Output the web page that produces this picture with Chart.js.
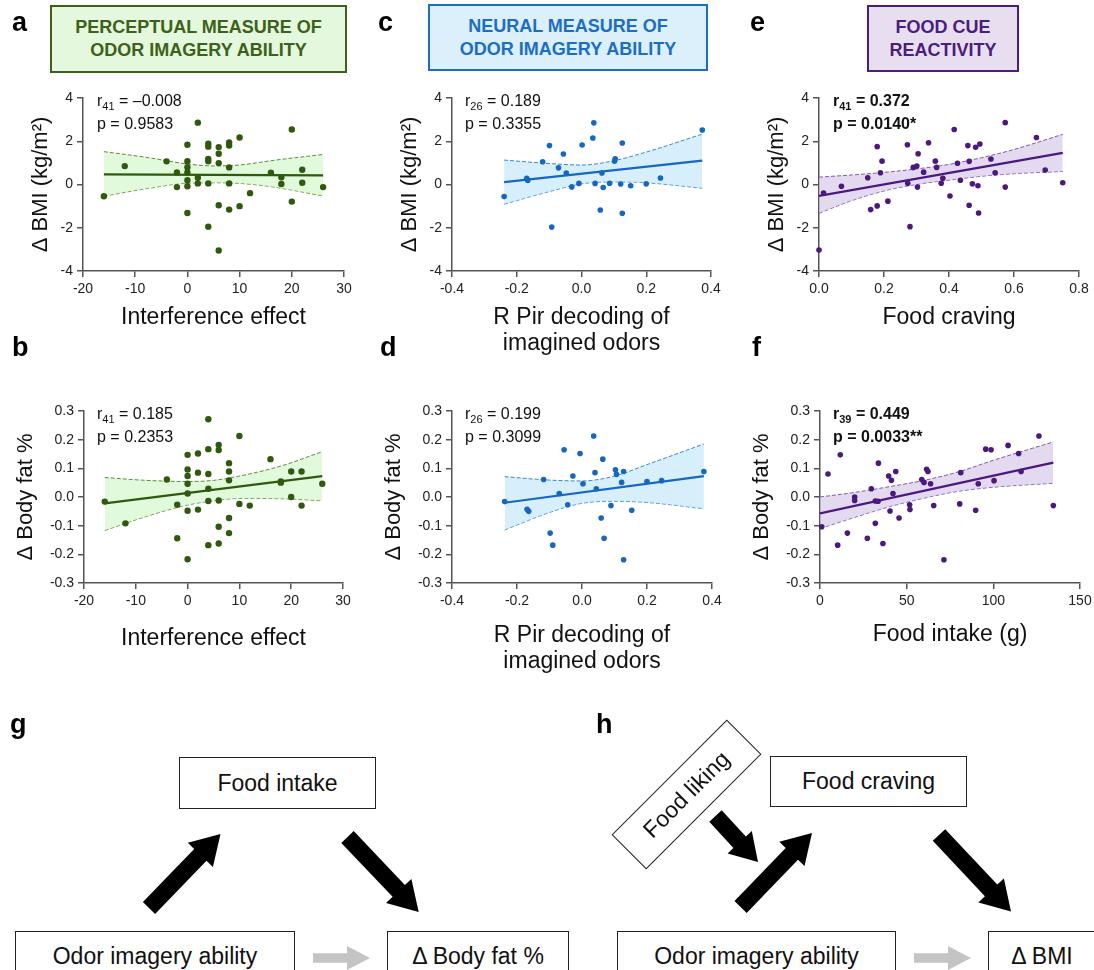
<!DOCTYPE html>
<html>
<head>
<meta charset="utf-8">
<script src="https://cdn.jsdelivr.net/npm/chart.js@4.4.1/dist/chart.umd.min.js"></script>
<style>
  body { margin: 0; background: #fff; font-family: "Liberation Sans", Arial, sans-serif; }
  #fig { position: relative; width: 1094px; height: 970px; overflow: hidden; background: #fff; }
  canvas { position: absolute; }
  .lbl { position: absolute; font-weight: bold; font-size: 27px; line-height: 27px; color: #000; }
  .hdr { position: absolute; box-sizing: border-box; border: 2.5px solid; display: flex; align-items: center;
         justify-content: center; text-align: center; font-weight: bold; font-size: 18px; line-height: 23px; }
  .stat { position: absolute; font-size: 16px; line-height: 23px; color: #111; white-space: nowrap; }
  .stat sub { font-size: 11px; line-height: 0; vertical-align: -4px; }
  .stat.bold { font-weight: bold; }
  .box { position: absolute; box-sizing: border-box; border: 1.5px solid #222; display: flex; align-items: center;
         justify-content: center; font-size: 23px; color: #111; background: #fff; white-space: nowrap; }
  svg { position: absolute; left: 0; top: 0; }
</style>
</head>
<body>
<div id="fig">
  <svg id="arrows" width="1094" height="970"></svg>

  <div class="lbl" style="left:12px;top:9px">a</div>
  <div class="lbl" style="left:378px;top:9px">c</div>
  <div class="lbl" style="left:750px;top:9px">e</div>
  <div class="lbl" style="left:12px;top:334px">b</div>
  <div class="lbl" style="left:380px;top:334px">d</div>
  <div class="lbl" style="left:752px;top:334px">f</div>
  <div class="lbl" style="left:10px;top:711px">g</div>
  <div class="lbl" style="left:596px;top:711px">h</div>

  <div class="hdr" style="left:50px;top:5px;width:297px;height:68px;border-color:#3d6118;background:#e3f8dd;color:#3d6118">PERCEPTUAL MEASURE OF<br>ODOR IMAGERY ABILITY</div>
  <div class="hdr" style="left:428px;top:4px;width:280px;height:67px;border-color:#1b6ec8;background:#dcf0fb;color:#1b6ec8">NEURAL MEASURE OF<br>ODOR IMAGERY ABILITY</div>
  <div class="hdr" style="left:867px;top:5px;width:152px;height:67px;border-color:#4b1c82;background:#e7dff0;color:#4b1c82">FOOD CUE<br>REACTIVITY</div>

  <div class="stat" style="left:97px;top:89px">r<sub>41</sub> = –0.008<br>p = 0.9583</div>
  <div class="stat" style="left:97px;top:402px">r<sub>41</sub> = 0.185<br>p = 0.2353</div>
  <div class="stat" style="left:465px;top:89px">r<sub>26</sub> = 0.189<br>p = 0.3355</div>
  <div class="stat" style="left:465px;top:402px">r<sub>26</sub> = 0.199<br>p = 0.3099</div>
  <div class="stat bold" style="left:833px;top:89px">r<sub>41</sub> = 0.372<br>p = 0.0140*</div>
  <div class="stat bold" style="left:833px;top:402px">r<sub>39</sub> = 0.449<br>p = 0.0033**</div>

  <div class="box" style="left:179px;top:757px;width:197px;height:52px">Food intake</div>
  <div class="box" style="left:15px;top:931px;width:280px;height:51px">Odor imagery ability</div>
  <div class="box" style="left:387px;top:931px;width:182px;height:51px">Δ Body fat %</div>

  <div class="box" style="left:770px;top:756px;width:197px;height:51px">Food craving</div>
  <div class="box" style="left:617px;top:931px;width:279px;height:51px">Odor imagery ability</div>
  <div class="box" style="left:988px;top:931px;width:108px;height:51px">Δ BMI</div>
  <div class="box" style="left:605px;top:770px;width:163px;height:49px;transform:rotate(-45deg);background:transparent">Food liking</div>
</div>

<script>
// ---- panel a: interference effect vs delta BMI
const aX = [-16,-12,-4,-2,-2,0,0,0,0,0,0,0,2,2,2,4,4,4,4,4,4,6,6,6,6,6,8,8,8,8,8,10,10,12,16,18,18,20,20,22,22,26];
const aY = [-0.54,0.85,1.07,0.56,-0.12,1.84,1.08,0.8,0.56,0.2,-0.08,-1.32,2.86,0.31,0.05,1.89,1.75,1.18,1.07,0.05,-1.95,1.73,1.42,0.99,-0.96,-3.05,1.95,1.8,0.79,0.05,-1.16,2.17,-1.0,-0.4,0.54,0.33,0.02,2.54,-0.79,0.68,0.08,-0.12];
const aFitX = [-16, 26];
const aFitY = [0.47, 0.42];
const aBandX = [-16, -8, 0, 5, 10, 16, 26];
const aBandUp = [1.52, 1.26, 0.95, 0.86, 0.9, 1.1, 1.39];
const aBandLo = [-0.54, -0.2, 0.06, 0.08, 0.05, -0.1, -0.53];

// ---- panel b: interference effect vs delta body fat
const bX = [-16,-12,-4,-2,-2,0,0,0,0,0,0,0,2,2,2,4,4,4,4,4,4,6,6,6,6,6,8,8,8,8,8,10,10,12,16,18,18,20,20,22,22,26];
const bY = [-0.016,-0.092,0.061,-0.027,-0.144,0.147,0.096,0.073,0.046,0.012,-0.048,-0.217,0.152,0.085,-0.044,0.271,0.167,0.08,0.029,-0.014,-0.168,0.182,0.164,-0.012,-0.104,-0.162,0.118,0.089,0.058,-0.073,-0.126,0.213,-0.024,-0.03,0.132,0.054,0.05,0.089,0.0,0.089,-0.03,0.046];
const bFitX = [-16, 26];
const bFitY = [-0.022, 0.073];
const bBandX = [-16, -8, 0, 5, 10, 18, 26];
const bBandUp = [0.068, 0.058, 0.054, 0.058, 0.073, 0.108, 0.158];
const bBandLo = [-0.117, -0.068, -0.028, -0.013, -0.005, -0.006, -0.013];

// ---- panel c: R Pir decoding vs delta BMI
const cX = [-0.239,-0.169,-0.166,-0.12,-0.099,-0.092,-0.071,-0.056,-0.047,-0.03,-0.008,0.002,0.035,0.038,0.042,0.058,0.063,0.067,0.087,0.102,0.104,0.121,0.126,0.126,0.152,0.2,0.244,0.373];
const cY = [-0.56,0.29,0.19,1.05,1.8,-1.97,0.77,1.41,0.53,-0.11,0.05,1.83,2.15,2.85,0.05,-1.18,0.53,-0.14,0.06,1.08,1.19,0.02,1.92,-1.33,-0.06,0.03,0.3,2.52];
const cFitX = [-0.239, 0.373];
const cFitY = [0.11, 1.1];
const cBandX = [-0.239, -0.1, 0, 0.1, 0.2, 0.373];
const cBandUp = [1.13, 0.97, 0.9, 1.1, 1.5, 2.33];
const cBandLo = [-0.91, -0.33, 0.03, 0.12, 0.08, -0.17];

// ---- panel d: R Pir decoding vs delta body fat
const dX = [-0.238,-0.169,-0.164,-0.118,-0.098,-0.09,-0.07,-0.055,-0.044,-0.028,-0.006,0.003,0.036,0.04,0.044,0.059,0.064,0.068,0.089,0.103,0.106,0.122,0.128,0.128,0.153,0.2,0.245,0.375];
const dY = [-0.016,-0.043,-0.05,0.061,-0.126,-0.168,0.012,0.165,-0.027,0.073,0.152,0.046,0.213,0.085,0.029,-0.073,0.132,-0.144,-0.03,0.095,0.079,0.051,0.089,-0.219,-0.046,0.054,0.057,0.089];
const dFitX = [-0.238, 0.375];
const dFitY = [-0.02, 0.073];
const dBandX = [-0.238, -0.1, 0, 0.1, 0.2, 0.375];
const dBandUp = [0.071, 0.059, 0.056, 0.073, 0.113, 0.185];
const dBandLo = [-0.115, -0.054, -0.022, -0.015, -0.019, -0.041];

// ---- panel e: food craving vs delta BMI
const eX = [0.0,0.014,0.069,0.15,0.159,0.179,0.179,0.189,0.194,0.212,0.272,0.273,0.28,0.29,0.301,0.303,0.305,0.322,0.337,0.358,0.362,0.376,0.381,0.403,0.416,0.426,0.435,0.458,0.462,0.462,0.472,0.482,0.489,0.491,0.495,0.529,0.542,0.573,0.573,0.669,0.696,0.75];
const eY = [-3.03,-0.39,-0.08,0.31,-1.16,1.75,-0.99,0.54,1.08,-0.77,1.84,0.06,-1.95,0.79,0.85,-0.12,1.42,0.57,1.93,1.08,0.79,0.06,0.29,-0.53,2.54,0.98,0.2,1.8,1.07,-0.96,0.03,1.72,-0.06,-1.32,1.87,1.18,0.54,2.86,-0.12,2.17,0.67,0.08];
const eFitX = [0, 0.75];
const eFitY = [-0.53, 1.46];
const eBandX = [0, 0.1, 0.2, 0.3, 0.4, 0.5, 0.6, 0.75];
const eBandUp = [0.34, 0.44, 0.56, 0.72, 0.93, 1.24, 1.62, 2.32];
const eBandLo = [-1.33, -0.75, -0.3, 0.0, 0.2, 0.38, 0.5, 0.6];

// ---- panel f: food intake vs delta body fat
const fX = [1.0,4.6,10.2,11.7,15.8,20,20,27.3,29.6,31.9,31.9,33.5,33.7,36.3,39.6,40.4,41.2,42.1,43.7,45.6,51.7,51.9,58.7,60,61.5,62.3,63.8,65.6,71.5,80.6,81.2,89.8,91.3,95.6,98.7,100.4,108.5,114.6,116,126.3,134.6];
const fY = [-0.104,0.08,-0.168,0.147,-0.126,0.0,-0.012,-0.144,0.029,-0.014,-0.092,-0.015,0.118,-0.162,0.073,-0.049,0.058,0.012,0.089,-0.073,-0.027,-0.044,0.061,0.051,0.097,0.089,0.046,-0.03,-0.219,-0.024,0.085,-0.046,0.046,0.167,0.165,0.057,0.18,0.152,0.089,0.213,-0.03];
const fFitX = [0, 134.6];
const fFitY = [-0.057, 0.12];
const fBandX = [0, 20, 40, 60, 80, 100, 134.6];
const fBandUp = [0.0, 0.016, 0.036, 0.058, 0.088, 0.128, 0.192];
const fBandLo = [-0.11, -0.071, -0.034, -0.004, 0.02, 0.034, 0.048];

const GREEN = { pt: '#2f5a0d', dash: '#5f8c3c', fill: 'rgba(200,245,190,0.55)' };
const BLUE = { pt: '#1467c4', dash: '#3a88d2', fill: 'rgba(180,225,248,0.55)' };
const PURPLE = { pt: '#4a1880', dash: '#7d5aab', fill: 'rgba(205,188,225,0.55)' };

const BMI_TITLE = 'Δ BMI (kg/m²)';
const FAT_TITLE = 'Δ Body fat %';

Chart.defaults.font.family = '"Liberation Sans", Arial, sans-serif';

const fig = document.getElementById('fig');

function pts(xs, ys) {
  return xs.map((x, i) => ({ x: x, y: ys[i] }));
}

function fmt(v, dec) {
  if (Math.abs(v) < 1e-9) v = 0;
  return dec ? v.toFixed(dec) : String(Math.round(v));
}

function makePanel(p) {
  const padTop = 14, padRight = 18;
  const cv = document.createElement('canvas');
  cv.width = p.yW + (p.R - p.L) + padRight;
  cv.height = padTop + (p.B - p.T) + p.xH;
  cv.style.left = (p.L - p.yW) + 'px';
  cv.style.top = (p.T - padTop) + 'px';
  fig.insertBefore(cv, fig.firstChild.nextSibling);

  const axisGrid = { drawOnChartArea: false, drawTicks: true, tickLength: 6, color: '#555', lineWidth: 1.5 };
  const axisBorder = { display: true, color: '#555', width: 1.5 };
  const tickFont = { size: 14 };

  new Chart(cv, {
    type: 'line',
    data: {
      datasets: [
        {
          data: pts(p.x, p.y), showLine: false, pointRadius: p.r, pointHoverRadius: p.r,
          pointBackgroundColor: p.col.pt, pointBorderWidth: 0, clip: false
        },
        {
          data: pts(p.fitX, p.fitY), borderColor: p.col.pt, borderWidth: 2.2, pointRadius: 0
        },
        {
          data: pts(p.bandX, p.bandUp), borderColor: p.col.dash, borderWidth: 1, borderDash: [4, 2],
          pointRadius: 0, cubicInterpolationMode: 'monotone', fill: '+1', backgroundColor: p.col.fill
        },
        {
          data: pts(p.bandX, p.bandLo), borderColor: p.col.dash, borderWidth: 1, borderDash: [4, 2],
          pointRadius: 0, cubicInterpolationMode: 'monotone', fill: false
        }
      ]
    },
    options: {
      responsive: false,
      animation: false,
      devicePixelRatio: 1,
      layout: { padding: { top: padTop, right: padRight, left: 0, bottom: 0 } },
      plugins: { legend: { display: false }, tooltip: { enabled: false } },
      scales: {
        x: {
          type: 'linear', min: p.xMin, max: p.xMax,
          afterFit: s => { s.height = p.xH; },
          ticks: { stepSize: p.xStep, autoSkip: false, maxRotation: 0, padding: 4, color: '#222', font: tickFont,
                   callback: v => fmt(v, p.xDec) },
          grid: axisGrid, border: axisBorder,
          title: { display: true, text: p.xTitle, color: '#111', font: { size: 23, lineHeight: 1.1 }, padding: 0 }
        },
        y: {
          min: p.yMin, max: p.yMax,
          afterFit: s => { s.width = p.yW; },
          ticks: { stepSize: p.yStep, autoSkip: false, padding: 4, color: '#222', font: tickFont,
                   callback: v => fmt(v, p.yDec) },
          grid: axisGrid, border: axisBorder,
          title: { display: true, text: p.yTitle, color: '#111', font: { size: 22 }, padding: 0 }
        }
      }
    }
  });
}

const topRow = { T: 98, B: 271, yMin: -4, yMax: 4, yStep: 2, yDec: 0, yTitle: BMI_TITLE, yW: 55 };
const botRow = { T: 411, B: 583, yMin: -0.3, yMax: 0.3, yStep: 0.1, yDec: 1, yTitle: FAT_TITLE, yW: 71 };

makePanel(Object.assign({}, topRow, {
  L: 83, R: 344, xH: 59, xMin: -20, xMax: 30, xStep: 10, xDec: 0, xTitle: 'Interference effect',
  x: aX, y: aY, fitX: aFitX, fitY: aFitY, bandX: aBandX, bandUp: aBandUp, bandLo: aBandLo, col: GREEN, r: 3.2
}));
makePanel(Object.assign({}, botRow, {
  L: 84, R: 343, xH: 68, xMin: -20, xMax: 30, xStep: 10, xDec: 0, xTitle: 'Interference effect',
  x: bX, y: bY, fitX: bFitX, fitY: bFitY, bandX: bBandX, bandUp: bBandUp, bandLo: bBandLo, col: GREEN, r: 3.2
}));
makePanel(Object.assign({}, topRow, {
  L: 452, R: 711, xH: 85, xMin: -0.4, xMax: 0.4, xStep: 0.2, xDec: 1, xTitle: ['R Pir decoding of', 'imagined odors'],
  x: cX, y: cY, fitX: cFitX, fitY: cFitY, bandX: cBandX, bandUp: cBandUp, bandLo: cBandLo, col: BLUE, r: 2.8
}));
makePanel(Object.assign({}, botRow, {
  L: 452, R: 712, xH: 91, xMin: -0.4, xMax: 0.4, xStep: 0.2, xDec: 1, xTitle: ['R Pir decoding of', 'imagined odors'],
  x: dX, y: dY, fitX: dFitX, fitY: dFitY, bandX: dBandX, bandUp: dBandUp, bandLo: dBandLo, col: BLUE, r: 2.8
}));
makePanel(Object.assign({}, topRow, {
  L: 819, R: 1079, xH: 59, xMin: 0, xMax: 0.8, xStep: 0.2, xDec: 1, xTitle: 'Food craving',
  x: eX, y: eY, fitX: eFitX, fitY: eFitY, bandX: eBandX, bandUp: eBandUp, bandLo: eBandLo, col: PURPLE, r: 2.8
}));
makePanel(Object.assign({}, botRow, {
  L: 820, R: 1080, xH: 64, xMin: 0, xMax: 150, xStep: 50, xDec: 0, xTitle: 'Food intake (g)',
  x: fX, y: fY, fitX: fFitX, fitY: fFitY, bandX: fBandX, bandUp: fBandUp, bandLo: fBandLo, col: PURPLE, r: 2.8
}));

// ---- path diagrams (g, h): block arrows
function arrow(x1, y1, x2, y2, sw, hw, hl, color) {
  const len = Math.hypot(x2 - x1, y2 - y1);
  const ux = (x2 - x1) / len, uy = (y2 - y1) / len;
  const nx = -uy, ny = ux;
  const bx = x2 - ux * hl, by = y2 - uy * hl;
  const P = [
    [x1 + nx * sw / 2, y1 + ny * sw / 2],
    [bx + nx * sw / 2, by + ny * sw / 2],
    [bx + nx * hw / 2, by + ny * hw / 2],
    [x2, y2],
    [bx - nx * hw / 2, by - ny * hw / 2],
    [bx - nx * sw / 2, by - ny * sw / 2],
    [x1 - nx * sw / 2, y1 - ny * sw / 2]
  ];
  const poly = document.createElementNS('http://www.w3.org/2000/svg', 'polygon');
  poly.setAttribute('points', P.map(q => q[0].toFixed(1) + ',' + q[1].toFixed(1)).join(' '));
  poly.setAttribute('fill', color);
  document.getElementById('arrows').appendChild(poly);
}

arrow(149, 908, 220.5, 834, 17, 35, 29, '#000');
arrow(347.5, 837, 418.7, 912, 17, 35, 29, '#000');
arrow(313, 958, 370, 958, 9.5, 24, 23, '#c4c4c4');

arrow(715.5, 816, 758, 862, 17, 33, 27, '#000');
arrow(740.6, 907, 812, 833, 17, 35, 29, '#000');
arrow(939, 835, 1011, 911.6, 17, 35, 29, '#000');
arrow(914, 958, 971, 958, 9.5, 24, 23, '#c4c4c4');
</script>
</body>
</html>
